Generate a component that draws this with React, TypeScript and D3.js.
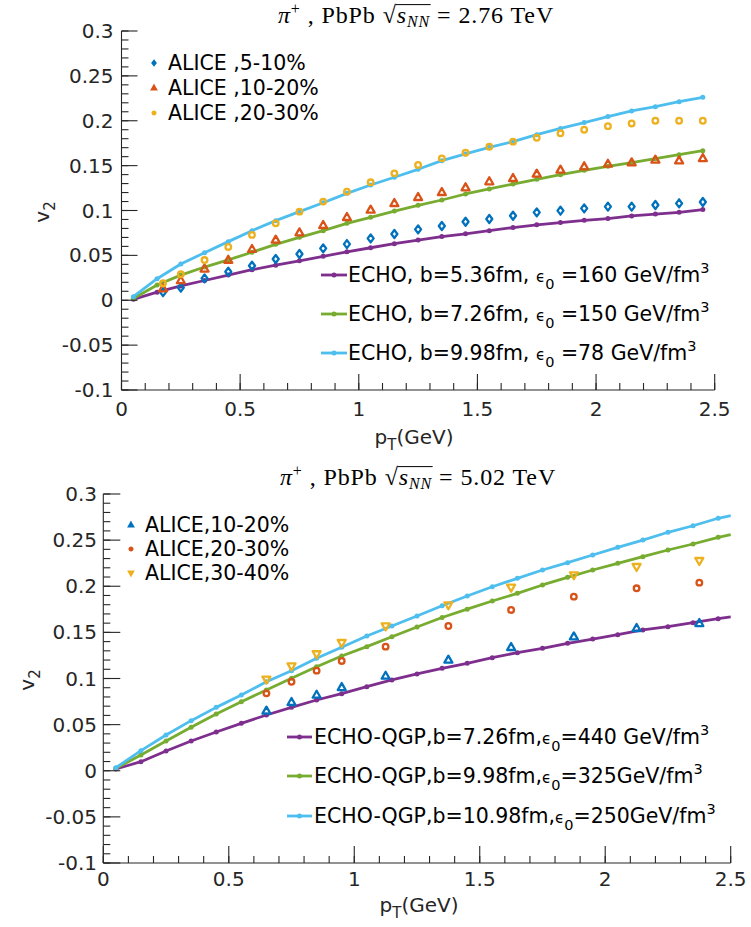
import React, { useLayoutEffect, useRef, useState } from "react";
import * as d3 from "d3";

const W = 751;
const H = 927;

// ---------- data : panel 1 (2.76 TeV) ----------
const ptEcho276 = [0.05, 0.15, 0.25, 0.35, 0.45, 0.55, 0.65, 0.75, 0.85, 0.95, 1.05, 1.15, 1.25, 1.35, 1.45, 1.55, 1.65, 1.75, 1.85, 1.95, 2.05, 2.15, 2.25, 2.35, 2.45];
const echoB536 = [0.001, 0.009, 0.016, 0.022, 0.028, 0.034, 0.039, 0.044, 0.049, 0.054, 0.0585, 0.063, 0.067, 0.071, 0.074, 0.0775, 0.081, 0.084, 0.0865, 0.089, 0.091, 0.094, 0.096, 0.098, 0.101];
const echoB726 = [0.002, 0.017, 0.028, 0.037, 0.045, 0.0535, 0.0623, 0.0701, 0.0775, 0.0857, 0.0924, 0.0994, 0.1058, 0.1117, 0.1184, 0.124, 0.1295, 0.1347, 0.1399, 0.1448, 0.1492, 0.1533, 0.1577, 0.1622, 0.1667];
const echoB998 = [0.004, 0.024, 0.0404, 0.053, 0.0653, 0.0775, 0.0887, 0.0987, 0.1087, 0.1191, 0.1284, 0.137, 0.1459, 0.1555, 0.163, 0.1704, 0.1767, 0.1845, 0.1915, 0.198, 0.2046, 0.2109, 0.2157, 0.2212, 0.2261];

const ptAlice276 = [0.175, 0.25, 0.35, 0.45, 0.55, 0.65, 0.75, 0.85, 0.95, 1.05, 1.15, 1.25, 1.35, 1.45, 1.55, 1.65, 1.75, 1.85, 1.95, 2.05, 2.15, 2.25, 2.35, 2.45];
const alice0510 = [0.009, 0.014, 0.0244, 0.0318, 0.0385, 0.0459, 0.0515, 0.0578, 0.0626, 0.0689, 0.0738, 0.079, 0.0827, 0.0875, 0.0905, 0.0942, 0.0979, 0.0998, 0.1024, 0.1043, 0.1043, 0.1061, 0.108, 0.1095];
const alice1020 = [0.013, 0.022, 0.035, 0.0448, 0.0568, 0.0672, 0.0753, 0.0835, 0.0924, 0.1006, 0.108, 0.1147, 0.1203, 0.1255, 0.1322, 0.1359, 0.1407, 0.1452, 0.1489, 0.1518, 0.1533, 0.1563, 0.1555, 0.1581];
const alice2030 = [0.019, 0.029, 0.0448, 0.0594, 0.0728, 0.0857, 0.0987, 0.1099, 0.121, 0.1314, 0.1414, 0.1507, 0.1581, 0.1644, 0.1711, 0.1767, 0.181, 0.186, 0.19, 0.194, 0.197, 0.2, 0.2, 0.2];

// ---------- data : panel 2 (5.02 TeV) ----------
const ptEcho502 = [0.05, 0.15, 0.25, 0.35, 0.45, 0.55, 0.65, 0.75, 0.85, 0.95, 1.05, 1.15, 1.25, 1.35, 1.45, 1.55, 1.65, 1.75, 1.85, 1.95, 2.05, 2.15, 2.25, 2.35, 2.45, 2.5];
const qgpB726 = [0.0019, 0.0098, 0.0214, 0.0322, 0.042, 0.0514, 0.0604, 0.0687, 0.0767, 0.0835, 0.0911, 0.0984, 0.1049, 0.111, 0.1165, 0.1226, 0.128, 0.1327, 0.1382, 0.1428, 0.1475, 0.1526, 0.1562, 0.1605, 0.1648, 0.1668];
const qgpB998 = [0.0026, 0.0171, 0.0322, 0.0471, 0.0615, 0.0749, 0.0875, 0.1002, 0.1128, 0.1244, 0.1345, 0.1453, 0.1559, 0.1661, 0.1752, 0.184, 0.1923, 0.2014, 0.2097, 0.2176, 0.2249, 0.2321, 0.2393, 0.2458, 0.253, 0.256];
const qgpB1098 = [0.0033, 0.0218, 0.0388, 0.0543, 0.0687, 0.0821, 0.0965, 0.1085, 0.1219, 0.1338, 0.1461, 0.1569, 0.1678, 0.1788, 0.1894, 0.1995, 0.2086, 0.2176, 0.2256, 0.2339, 0.2422, 0.2501, 0.2585, 0.2656, 0.2737, 0.2765];

const ptAlice502 = [0.65, 0.75, 0.85, 0.95, 1.125, 1.375, 1.625, 1.875, 2.125, 2.375];
const aliceB1020 = [0.0648, 0.0742, 0.0821, 0.0904, 0.1027, 0.1201, 0.1338, 0.1453, 0.1544, 0.1598];
const aliceB2030 = [0.0839, 0.0965, 0.1085, 0.119, 0.1345, 0.1569, 0.1743, 0.1887, 0.1978, 0.2039];
const aliceB3040 = [0.0991, 0.1135, 0.1266, 0.1388, 0.1569, 0.1797, 0.1988, 0.2122, 0.2212, 0.2277];

// ---------- ticks ----------
const xTickVals = [0, 0.5, 1, 1.5, 2, 2.5];
const xTickLabels = ["0", "0.5", "1", "1.5", "2", "2.5"];
const yTickVals = [-0.1, -0.05, 0, 0.05, 0.1, 0.15, 0.2, 0.25, 0.3];
const yTickLabels = ["-0.1", "-0.05", "0", "0.05", "0.1", "0.15", "0.2", "0.25", "0.3"];

const BLUE = "#0072BD";
const ORANGE = "#D95319";
const YELLOW = "#EDB120";
const PURPLE = "#7E2F8E";
const GREEN = "#77AC30";
const CYAN = "#4DBEEE";
const AX = "#262626";
const SANS = "'DejaVu Sans', sans-serif";
const SERIF = "'Liberation Serif', 'DejaVu Serif', serif";

type Curve = { x: number[]; y: number[]; color: string; label: [string, string] };
type Pts = { x: number[]; y: number[]; color: string; shape: string; label: string };
type Frame = { l: number; r: number; t: number; b: number };

function shapePath(shape: string, s: number) {
  if (shape === "diamond") return `M0,${-4 * s}L${3 * s},0L0,${4 * s}L${-3 * s},0Z`;
  if (shape === "triUp") return `M0,${-4.3 * s}L${4 * s},${2.7 * s}L${-4 * s},${2.7 * s}Z`;
  if (shape === "triDown") return `M0,${4.3 * s}L${4 * s},${-2.7 * s}L${-4 * s},${-2.7 * s}Z`;
  const r = 2.8 * s;
  return `M${r},0A${r},${r} 0 1,1 ${-r},0A${r},${r} 0 1,1 ${r},0Z`;
}

function Title({ cx, cy, energy }: { cx: number; cy: number; energy: string }) {
  const ref = useRef<SVGTextElement>(null);
  const [ol, setOl] = useState<number[] | null>(null);
  useLayoutEffect(() => {
    const t = ref.current;
    if (!t) return;
    const s = t.textContent || "";
    const i = s.indexOf("√");
    try {
      const r = t.getExtentOfChar(i);
      const e = t.getExtentOfChar(i + 3);
      setOl([r.x + r.width - 1.2, e.x + e.width + 0.5, r.y + 2.6]);
    } catch (err) {
      /* ignore */
    }
  }, []);
  return (
    <g>
      <text
        ref={ref}
        x={cx}
        y={cy + 7}
        textAnchor="middle"
        fontFamily={SERIF}
        fontSize={24}
        letterSpacing={0.9}
        fill="#000"
        style={{ whiteSpace: "pre" }}
      >
        <tspan fontStyle="italic">π</tspan>
        <tspan fontSize={16} dy={-9}>+</tspan>
        <tspan dy={9}>{" , PbPb "}</tspan>
        <tspan>√</tspan>
        <tspan fontStyle="italic">s</tspan>
        <tspan fontStyle="italic" fontSize={16} dy={4}>NN</tspan>
        <tspan dy={-4}>{" = " + energy + " TeV"}</tspan>
      </text>
      {ol && <line x1={ol[0]} x2={ol[1]} y1={ol[2]} y2={ol[2]} stroke="#000" strokeWidth={1} />}
    </g>
  );
}

function EchoLabel({ x, y, parts }: { x: number; y: number; parts: [string, string] }) {
  return (
    <text x={x} y={y + 7} fontFamily={SANS} fontSize={20.5} fill="#000" style={{ whiteSpace: "pre" }}>
      <tspan>{parts[0]}</tspan>
      <tspan fontSize={15}>ϵ</tspan>
      <tspan fontSize={14.5} dy={7}>0</tspan>
      <tspan dy={-7}>{parts[1]}</tspan>
      <tspan fontSize={14.5} dy={-9}>3</tspan>
    </text>
  );
}

function Panel(props: {
  f: Frame;
  title: string;
  titleY: number;
  titleX: number;
  curves: Curve[];
  pts: Pts[];
  aliceLeg: { mx: number; tx: number; ys: number[] };
  echoLeg: { x1: number; x2: number; tx: number; ys: number[] };
  ylab: { x: number; y: number };
  xlab: { x: number; y: number };
  yLabRight: number;
  xLabY: number;
  majorLen: number;
}) {
  const { f } = props;
  const x = d3.scaleLinear().domain([0, 2.5]).range([f.l, f.r]);
  const y = d3.scaleLinear().domain([-0.1, 0.3]).range([f.b, f.t]);
  const line = d3
    .line<[number, number]>()
    .x((d) => x(d[0]))
    .y((d) => y(d[1]));
  const minorX = d3.range(0, 2.5001, 0.1);
  const minorY = d3.range(-0.1, 0.3001, 0.01);
  const ML = props.majorLen;
  const ml = 7;
  return (
    <g>
      <Title cx={props.titleX} cy={props.titleY} energy={props.title} />
      {props.curves.map((c, ci) => {
        const data = c.x.map((v, i) => [v, c.y[i]] as [number, number]);
        return (
          <g key={"c" + ci}>
            <path d={line(data) || ""} fill="none" stroke={c.color} strokeWidth={2.8} strokeLinejoin="round" />
            {data
              .filter((d) => d[0] < 2.49)
              .map((d, i) => (
                <circle key={i} cx={x(d[0])} cy={y(d[1])} r={2.5} fill={c.color} />
              ))}
          </g>
        );
      })}
      {props.pts.map((p, pi) => (
        <g key={"p" + pi}>
          {p.x.map((v, i) => (
            <path
              key={i}
              transform={`translate(${x(v)},${y(p.y[i])})`}
              d={shapePath(p.shape, 1)}
              fill="none"
              stroke={p.color}
              strokeWidth={2.3}
              strokeLinejoin="round"
            />
          ))}
        </g>
      ))}
      <g stroke={AX} strokeWidth={1.1} fill="none">
        <line x1={f.l} x2={f.r} y1={f.b} y2={f.b} />
        <line x1={f.l} x2={f.l} y1={f.t} y2={f.b} />
        {minorX.map((v, i) => (
          <line key={"mx" + i} x1={x(v)} x2={x(v)} y1={f.b} y2={f.b - ml} />
        ))}
        {xTickVals.map((v, i) => (
          <line key={"Mx" + i} x1={x(v)} x2={x(v)} y1={f.b} y2={f.b - ML} />
        ))}
        {minorY.map((v, i) => (
          <line key={"my" + i} x1={f.l} x2={f.l + ml} y1={y(v)} y2={y(v)} />
        ))}
        {yTickVals.map((v, i) => (
          <line key={"My" + i} x1={f.l} x2={f.l + ML} y1={y(v)} y2={y(v)} />
        ))}
      </g>
      <g fontFamily={SANS} fontSize={20} fill={AX}>
        {xTickVals.map((v, i) => (
          <text key={"xl" + i} x={x(v)} y={props.xLabY} textAnchor="middle">
            {xTickLabels[i]}
          </text>
        ))}
        {yTickVals.map((v, i) => (
          <text key={"yl" + i} x={props.yLabRight} y={y(v) + 7} textAnchor="end">
            {yTickLabels[i]}
          </text>
        ))}
        <text transform={`translate(${props.ylab.x},${props.ylab.y}) rotate(-90)`} textAnchor="middle" dy={7}>
          v<tspan fontSize={15} dy={6}>2</tspan>
        </text>
        <text x={props.xlab.x} y={props.xlab.y + 7} textAnchor="middle">
          p<tspan fontSize={15} dy={6}>T</tspan>
          <tspan dy={-6}>(GeV)</tspan>
        </text>
      </g>
      {props.pts.map((p, i) => (
        <g key={"al" + i}>
          <path
            transform={`translate(${props.aliceLeg.mx},${props.aliceLeg.ys[i]})`}
            d={shapePath(p.shape, 0.55)}
            fill={p.color}
            stroke={p.color}
            strokeWidth={2}
          />
          <text x={props.aliceLeg.tx} y={props.aliceLeg.ys[i] + 7} fontFamily={SANS} fontSize={20.5} fill="#000" style={{ whiteSpace: "pre" }}>
            {p.label}
          </text>
        </g>
      ))}
      {props.curves.map((c, i) => (
        <g key={"el" + i}>
          <line x1={props.echoLeg.x1} x2={props.echoLeg.x2} y1={props.echoLeg.ys[i]} y2={props.echoLeg.ys[i]} stroke={c.color} strokeWidth={2.8} />
          <circle cx={(props.echoLeg.x1 + props.echoLeg.x2) / 2} cy={props.echoLeg.ys[i]} r={2.5} fill={c.color} />
          <EchoLabel x={props.echoLeg.tx} y={props.echoLeg.ys[i]} parts={c.label} />
        </g>
      ))}
    </g>
  );
}

export default function App() {
  const curves1: Curve[] = [
    { x: ptEcho276, y: echoB536, color: PURPLE, label: ["ECHO, b=5.36fm, ", " =160 GeV/fm"] },
    { x: ptEcho276, y: echoB726, color: GREEN, label: ["ECHO, b=7.26fm, ", " =150 GeV/fm"] },
    { x: ptEcho276, y: echoB998, color: CYAN, label: ["ECHO, b=9.98fm, ", " =78 GeV/fm"] },
  ];
  const pts1: Pts[] = [
    { x: ptAlice276, y: alice0510, color: BLUE, shape: "diamond", label: "ALICE ,5-10%" },
    { x: ptAlice276, y: alice1020, color: ORANGE, shape: "triUp", label: "ALICE ,10-20%" },
    { x: ptAlice276, y: alice2030, color: YELLOW, shape: "circle", label: "ALICE ,20-30%" },
  ];
  const curves2: Curve[] = [
    { x: ptEcho502, y: qgpB726, color: PURPLE, label: ["ECHO-QGP,b=7.26fm,", "=440 GeV/fm"] },
    { x: ptEcho502, y: qgpB998, color: GREEN, label: ["ECHO-QGP,b=9.98fm,", "=325GeV/fm"] },
    { x: ptEcho502, y: qgpB1098, color: CYAN, label: ["ECHO-QGP,b=10.98fm,", "=250GeV/fm"] },
  ];
  const pts2: Pts[] = [
    { x: ptAlice502, y: aliceB1020, color: BLUE, shape: "triUp", label: "ALICE,10-20%" },
    { x: ptAlice502, y: aliceB2030, color: ORANGE, shape: "circle", label: "ALICE,20-30%" },
    { x: ptAlice502, y: aliceB3040, color: YELLOW, shape: "triDown", label: "ALICE,30-40%" },
  ];
  return (
    <svg width={W} height={H} viewBox={`0 0 ${W} ${H}`} style={{ position: "absolute", left: 0, top: 0, background: "#fff" }}>
      <rect x={0} y={0} width={W} height={H} fill="#fff" />
      <Panel
        f={{ l: 121.5, r: 714.7, t: 31, b: 390 }}
        title="2.76"
        titleX={416}
        titleY={16}
        curves={curves1}
        pts={pts1}
        aliceLeg={{ mx: 154, tx: 168, ys: [63, 88, 113] }}
        echoLeg={{ x1: 321, x2: 347, tx: 348, ys: [275, 314, 353] }}
        ylab={{ x: 42, y: 212 }}
        xlab={{ x: 414, y: 437 }}
        yLabRight={113.5}
        xLabY={416}
        majorLen={16}
      />
      <Panel
        f={{ l: 103.3, r: 730.7, t: 494, b: 863 }}
        title="5.02"
        titleX={418}
        titleY={478}
        curves={curves2}
        pts={pts2}
        aliceLeg={{ mx: 131, tx: 145, ys: [525, 549, 573] }}
        echoLeg={{ x1: 287, x2: 312, tx: 314, ys: [737, 776, 816] }}
        ylab={{ x: 27, y: 680 }}
        xlab={{ x: 419, y: 905 }}
        yLabRight={97}
        xLabY={886}
        majorLen={17}
      />
    </svg>
  );
}
